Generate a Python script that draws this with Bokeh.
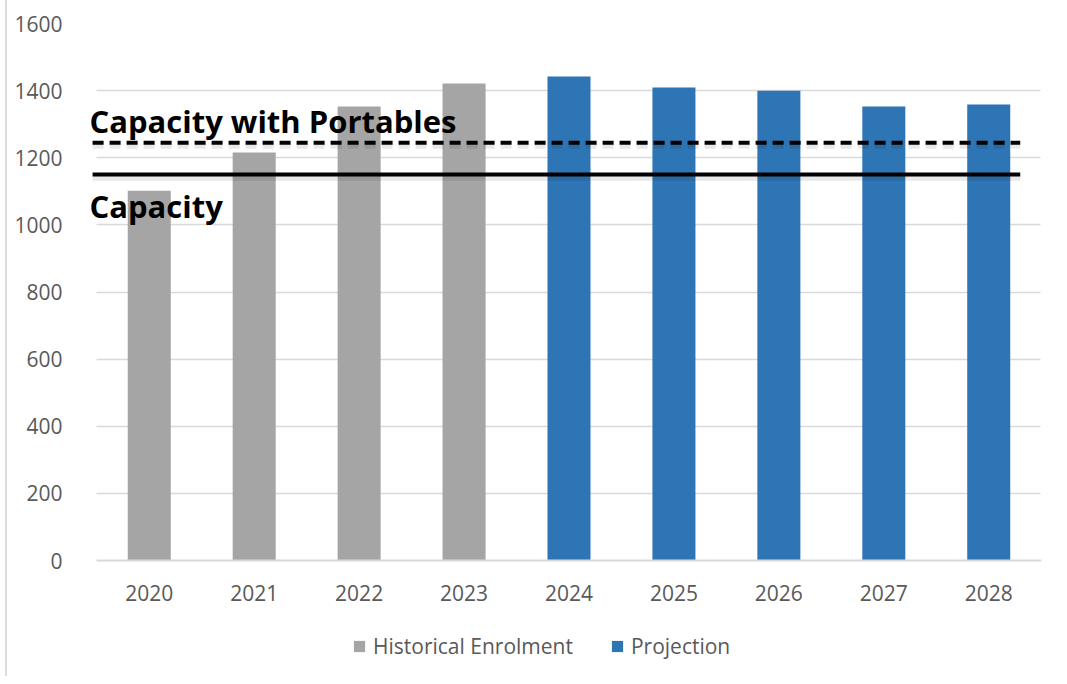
from bokeh.plotting import figure
from bokeh.layouts import column
from bokeh.models import (ColumnDataSource, FactorRange, Range1d, Label, Legend,
                          LegendItem, FixedTicker, BoxAnnotation)
from bokeh.embed import file_html
from bokeh.resources import INLINE

# ---- data ----
years = ["2020", "2021", "2022", "2023", "2024", "2025", "2026", "2027", "2028"]
hist_years = ["2020", "2021", "2022", "2023"]
hist_values = [1102, 1216, 1353, 1421]
proj_years = ["2024", "2025", "2026", "2027", "2028"]
proj_values = [1442, 1409, 1400, 1353, 1359]
capacity = 1150
capacity_portables = 1245
y_ticks = [0, 200, 400, 600, 800, 1000, 1200, 1400, 1600]
legend_labels = ["Historical Enrolment", "Projection"]

GRAY = "#a5a5a5"
BLUE = "#2e75b6"
TXT = "#595959"
GRID = "#d9d9d9"

W = 1052
p = figure(width=W, height=620,
           x_range=FactorRange(*years, range_padding=0.06, range_padding_units="absolute"),
           y_range=Range1d(0, 1600), output_backend="svg", toolbar_location=None,
           min_border_left=83, min_border_right=12, min_border_top=23,
           min_border_bottom=60)
p.outline_line_color = None
p.background_fill_color = "white"
p.border_fill_color = "white"

# axes / grid
p.yaxis.ticker = FixedTicker(ticks=y_ticks)
p.yaxis.axis_line_color = None
p.yaxis.major_tick_line_color = None
p.yaxis.minor_tick_line_color = None
p.yaxis.major_label_standoff = 22
p.yaxis.major_label_text_font = "Open Sans"
p.yaxis.major_label_text_font_size = "21px"
p.yaxis.major_label_text_color = TXT

p.xaxis.axis_line_color = GRID
p.xaxis.axis_line_width = 2
p.xaxis.bounds = (0, 9)
p.xaxis.major_tick_line_color = None
p.xaxis.minor_tick_line_color = None
p.xaxis.major_label_standoff = 18
p.xaxis.major_label_text_font = "Open Sans"
p.xaxis.major_label_text_font_size = "21px"
p.xaxis.major_label_text_color = TXT

p.xgrid.grid_line_color = None
p.ygrid.grid_line_color = GRID
p.ygrid.grid_line_width = 1.5

# white masks so gridlines span only the category area
p.add_layout(BoxAnnotation(left=0, right=6, left_units="screen", right_units="screen",
                           fill_color="white", fill_alpha=1, line_color=None,
                           level="underlay"))
p.add_layout(BoxAnnotation(left=950, right=960, left_units="screen", right_units="screen",
                           fill_color="white", fill_alpha=1, line_color=None,
                           level="underlay"))

hist_src = ColumnDataSource(dict(x=hist_years, y=hist_values))
proj_src = ColumnDataSource(dict(x=proj_years, y=proj_values))
p.vbar(x="x", top="y", width=0.41, source=hist_src, fill_color=GRAY, line_color=None)
p.vbar(x="x", top="y", width=0.41, source=proj_src, fill_color=BLUE, line_color=None)

# capacity lines (with soft shadow)
x0 = [("2020", -0.54)]
x1 = [("2028", 0.3)]
for val, dash in [(capacity_portables, "11 6"), (capacity, "solid")]:
    p.segment(x0=x0, x1=x1, y0=[val - 8], y1=[val - 8], line_color="black",
              line_alpha=0.09, line_width=7, line_dash=dash)
    p.segment(x0=x0, x1=x1, y0=[val], y1=[val], line_color="black",
              line_width=4, line_dash=dash)

p.add_layout(Label(x=-1, x_units="screen", y=capacity_portables, y_offset=22,
                   text="Capacity with Portables", text_font="Open Sans",
                   text_font_style="bold", text_font_size="31px",
                   text_color="black", text_baseline="alphabetic"))
p.add_layout(Label(x=-1, x_units="screen", y=capacity, y_offset=-31,
                   text="Capacity", text_font="Open Sans",
                   text_font_style="bold", text_font_size="31px",
                   text_color="black", text_baseline="alphabetic"))

# ---- legend strip below the chart ----
pl = figure(width=W, height=56, x_range=Range1d(0, 1), y_range=Range1d(0, 1),
            x_axis_type=None, y_axis_type=None, output_backend="svg",
            toolbar_location=None, min_border=0)
pl.outline_line_color = None
pl.xgrid.grid_line_color = None
pl.ygrid.grid_line_color = None
# zero-height bars: only their legend swatches are visible
g_hist = pl.vbar(x=[0.5], top=[0], bottom=[0], width=0.1, fill_color=GRAY, line_color=None)
g_proj = pl.vbar(x=[0.5], top=[0], bottom=[0], width=0.1, fill_color=BLUE, line_color=None)
legend = Legend(items=[LegendItem(label=legend_labels[0], renderers=[g_hist]),
                       LegendItem(label=legend_labels[1], renderers=[g_proj])],
                orientation="horizontal", location=(262, 16),
                padding=0, margin=0, spacing=37, glyph_width=14, glyph_height=14,
                label_height=14, label_standoff=7,
                label_text_font="Open Sans", label_text_font_size="21px",
                label_text_color=TXT, border_line_color=None,
                background_fill_alpha=0)
pl.add_layout(legend, "center")

layout = column(p, pl, spacing=0,
                styles={"border-left": "2px solid #dcdcdc", "margin-left": "5px"})
open("out.html", "w").write(file_html(layout, INLINE))
